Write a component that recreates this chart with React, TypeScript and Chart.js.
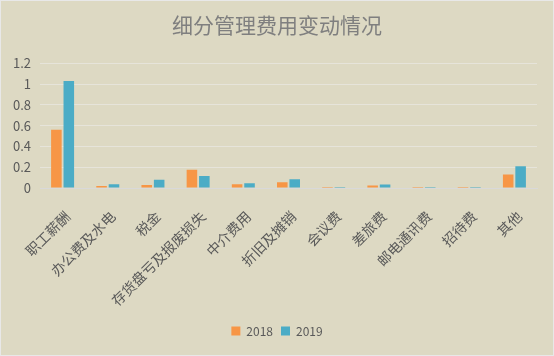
import React, { useEffect, useRef } from "react";
import { Chart, registerables } from "chart.js";

Chart.register(...registerables);

const categories = [
  "职工薪酬",
  "办公费及水电",
  "税金",
  "存货盘亏及报废损失",
  "中介费用",
  "折旧及摊销",
  "会议费",
  "差旅费",
  "邮电通讯费",
  "招待费",
  "其他",
];
const values2018 = [0.56, 0.02, 0.03, 0.175, 0.035, 0.055, 0.01, 0.023, 0.01, 0.01, 0.13];
const values2019 = [1.03, 0.035, 0.08, 0.115, 0.045, 0.085, 0.01, 0.033, 0.01, 0.01, 0.21];
const seriesNames = ["2018", "2019"];
const chartTitle = "细分管理费用变动情况";

const FONT = "'Noto Sans CJK SC', 'Noto Sans', sans-serif";

export default function App() {
  const ref = useRef<HTMLCanvasElement | null>(null);
  useEffect(() => {
    if (!ref.current) return;
    const chart = new Chart(ref.current, {
      type: "bar",
      data: {
        labels: categories,
        datasets: [
          {
            label: seriesNames[0],
            data: values2018,
            backgroundColor: "#F79646",
            categoryPercentage: 0.55,
            barPercentage: 0.85,
          },
          {
            label: seriesNames[1],
            data: values2019,
            backgroundColor: "#4BACC6",
            categoryPercentage: 0.55,
            barPercentage: 0.85,
          },
        ],
      },
      options: {
        responsive: false,
        animation: false,
        layout: { padding: { left: 0, right: 0, top: 0, bottom: 8 } },
        plugins: {
          title: {
            display: true,
            text: chartTitle,
            color: "#7F7F7F",
            font: { family: FONT, size: 21, weight: "normal" },
            padding: { top: 11, bottom: 26 },
          },
          legend: {
            position: "bottom",
            labels: {
              boxWidth: 9,
              boxHeight: 9,
              padding: 8,
              color: "#595959",
              font: { family: FONT, size: 12 },
            },
          },
          tooltip: { enabled: false },
        },
        scales: {
          x: {
            grid: { display: false, drawTicks: false },
            border: { color: "#D9D9D9", width: 1 },
            ticks: {
              color: "#595959",
              font: { family: FONT, size: 14 },
              maxRotation: 45,
              minRotation: 45,
              padding: 20,
              labelOffset: 5,
              autoSkip: false,
            },
            afterFit: (s: any) => {
              s.height = 129;
            },
          },
          y: {
            min: 0,
            max: 1.2,
            ticks: {
              stepSize: 0.2,
              color: "#595959",
              font: { family: FONT, size: 13 },
              padding: 9,
              callback: (v: any) => String(parseFloat(Number(v).toFixed(1))),
            },
            grid: { color: "#E6E4DA", drawTicks: false },
            border: { display: false },
            afterFit: (s: any) => {
              s.width = 39;
            },
          },
          yRight: {
            position: "right",
            display: true,
            min: 0,
            max: 1.2,
            ticks: { display: false },
            grid: { display: false, drawTicks: false },
            border: { display: false },
            afterFit: (s: any) => {
              s.width = 16;
            },
          },
        },
      },
    });
    return () => chart.destroy();
  }, []);
  return (
    <div
      style={{
        position: "fixed",
        left: 0,
        top: 0,
        width: 554,
        height: 356,
        boxSizing: "border-box",
        border: "1px solid #E8E8E8",
        background: "#DDD9C3",
      }}
    >
      <canvas ref={ref} width={552} height={354} style={{ display: "block" }} />
    </div>
  );
}
